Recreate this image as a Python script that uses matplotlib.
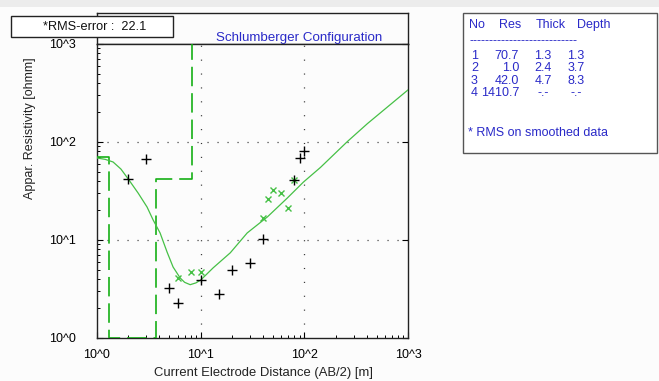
import matplotlib
matplotlib.use('Agg')
import matplotlib.pyplot as plt
import numpy as np
from matplotlib.patches import Rectangle
from matplotlib.ticker import LogLocator, NullFormatter, FixedLocator, FixedFormatter

# Observed field data (AB/2 [m], apparent resistivity [ohmm])
obs_ab2 = [2, 3, 5, 6, 10, 15, 20, 30, 40, 80, 90, 100]
obs_rho = [42, 67, 3.2, 2.3, 3.9, 2.8, 5.0, 5.8, 10.3, 41, 68, 81]

# Smoothed data
smo_ab2 = [6, 8, 10, 40, 45, 50, 60, 70, 80]
smo_rho = [4.1, 4.7, 4.7, 16.8, 26, 32, 30, 21, 41]

# Calculated model response curve
calc_ab2 = [1.0, 1.2, 1.43, 1.7, 2.0, 2.5, 3.04, 3.48, 4.06, 4.75, 5.42, 6.34,
            7.0, 7.92, 9.0, 10, 13.2, 19.3, 28.1, 44, 68.5, 98, 143, 260, 406,
            1000]
calc_rho = [68.7, 66.5, 62.5, 53, 42, 30, 21.7, 16.0, 11.8, 7.5, 5.3, 4.1,
            3.7, 3.5, 3.65, 3.9, 5.2, 7.4, 11.8, 17.2, 26.8, 39, 55, 101, 154,
            340]

# Layer model
layer_no = [1, 2, 3, 4]
layer_res = [70.7, 1.0, 42.0, 1410.7]
layer_thick = ['1.3', '2.4', '4.7', '-.-']
layer_depth = ['1.3', '3.7', '8.3', '-.-']
depths = [1.3, 3.7, 8.3]

rms_error = 22.1

W, H = 659, 381
BLUE = '#2a2ac8'
GREEN = '#16b016'
LGREEN = '#46c046'


def fx(px):
    return px / W


def fy(py):
    return 1 - py / H


plt.rcParams['font.family'] = ['Liberation Sans', 'DejaVu Sans']
plt.rcParams['lines.scale_dashes'] = False

fig = plt.figure(figsize=(W / 100, H / 100), dpi=100, facecolor='#fcfcfc')
fig.patches.append(Rectangle((0, fy(7)), 1, 1 - fy(7), transform=fig.transFigure,
                             facecolor='#ececec', edgecolor='none', zorder=0))

# title strip above the plot
tax = fig.add_axes([fx(97), fy(44), fx(311), 31 / H])
tax.set_xticks([])
tax.set_yticks([])
tax.set_facecolor('#fcfcfc')
tax.text(0.65, 0.2, 'Schlumberger Configuration', color=BLUE, fontsize=9.6,
         ha='center', va='center', transform=tax.transAxes)

ax = fig.add_axes([fx(97), fy(338), fx(311), 294 / H])
ax.set_facecolor('#fcfcfc')
ax.set_xscale('log')
ax.set_yscale('log')
ax.set_xlim(1, 1000)
ax.set_ylim(1, 1000)

# grid
for v in [10, 100]:
    ax.axvline(v, color='#333333', lw=0.9, linestyle=(0, (0.8, 9.2)), zorder=1)
    ax.axhline(v, color='#333333', lw=0.9, linestyle=(0, (0.8, 6.4)), zorder=1)

# layer model as steps
sx = [1.0]
sy = [layer_res[0]]
for i, d in enumerate(depths):
    sx += [d, d]
    sy += [layer_res[i], layer_res[i + 1]]
sx.append(1e4)
sy.append(layer_res[-1])
ax.plot(sx, sy, color=GREEN, lw=1.2, dashes=(14, 5), zorder=3, clip_on=True)

ax.plot(calc_ab2, calc_rho, color=LGREEN, lw=0.9, zorder=4)
ax.plot(smo_ab2, smo_rho, 'x', color=LGREEN, ms=5, mew=1.0, zorder=5)
ax.plot(obs_ab2, obs_rho, '+', color='black', ms=7.5, mew=1.0, zorder=6)

ticks = [1, 10, 100, 1000]
labels = ['10^0', '10^1', '10^2', '10^3']
ax.xaxis.set_major_locator(FixedLocator(ticks))
ax.xaxis.set_major_formatter(FixedFormatter(labels))
ax.yaxis.set_major_locator(FixedLocator(ticks))
ax.yaxis.set_major_formatter(FixedFormatter(labels))
ax.xaxis.set_minor_locator(LogLocator(base=10, subs=np.arange(2, 10), numticks=20))
ax.yaxis.set_minor_locator(LogLocator(base=10, subs=np.arange(2, 10), numticks=20))
ax.xaxis.set_minor_formatter(NullFormatter())
ax.yaxis.set_minor_formatter(NullFormatter())
ax.tick_params(which='major', direction='in', length=4.5, width=0.8,
               labelsize=9, top=False, right=True)
ax.tick_params(which='minor', direction='in', length=2.2, width=0.7,
               top=False, right=False)
ax.tick_params(axis='y', which='major', pad=15)
ax.tick_params(axis='x', which='major', pad=8)
for sp in list(ax.spines.values()) + list(tax.spines.values()):
    sp.set_linewidth(1.0)
    sp.set_color('#222222')

fig.text(fx(30), fy(128), 'Appar. Resistivity [ohmm]', rotation=90, fontsize=9,
         ha='center', va='center', color='#222222')
fig.text(fx(263), fy(373), 'Current Electrode Distance (AB/2) [m]', fontsize=9.4,
         ha='center', va='center', color='#222222')

# RMS box
fig.patches.append(Rectangle((fx(11), fy(37)), fx(162), 21 / H,
                             transform=fig.transFigure, facecolor='white',
                             edgecolor='#222222', lw=1.0, zorder=10))
fig.text(fx(95), fy(27), '*RMS-error :  %.1f' % rms_error, fontsize=9.2,
         ha='center', va='center', color='#111111', zorder=11)

# model table
fig.patches.append(Rectangle((fx(463), fy(153)), fx(194), 140 / H,
                             transform=fig.transFigure, facecolor='white',
                             edgecolor='#555555', lw=1.0, zorder=2))
fs = 9
for txt, x in zip(['No', 'Res', 'Thick', 'Depth'], [469, 499, 536, 577]):
    fig.text(fx(x), fy(25), txt, fontsize=fs, color=BLUE, va='center')
fig.text(fx(469), fy(41), '-' * 27, fontsize=9, color=BLUE, va='center')

# one text block per column
cols = [
    ('\n'.join(str(n) for n in layer_no), 471, 'left'),
    ('\n'.join('%.1f' % r for r in layer_res), 519, 'right'),
    ('\n'.join(layer_thick), 543, 'center'),
    ('\n'.join(layer_depth), 576, 'center'),
]
for txt, x, ha in cols:
    fig.text(fx(x), fy(74.5), txt, fontsize=fs, color=BLUE, ha=ha, va='center',
             multialignment=ha, linespacing=1.01)
fig.text(fx(468), fy(133), '* RMS on smoothed data', fontsize=fs, color=BLUE,
         va='center')

fig.savefig('out.png', dpi=100, facecolor=fig.get_facecolor())
